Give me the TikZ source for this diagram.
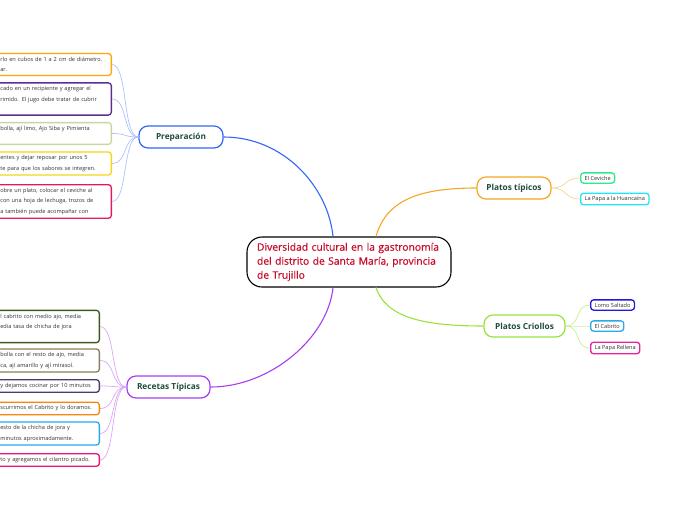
\documentclass[tikz,border=0pt]{standalone}
\usepackage{fontspec}
\setmainfont{Open Sans}
\newfontfamily\rootfont{Open Sans}[FakeBold=0.6]
\usetikzlibrary{positioning}
\definecolor{rootred}{HTML}{C8102E}
\definecolor{brtext}{HTML}{1E4D3A}
\definecolor{cprep}{HTML}{3366F5}
\definecolor{ctip}{HTML}{F5A623}
\definecolor{ccri}{HTML}{9AE23A}
\definecolor{crec}{HTML}{A63DF0}

\begin{document}
\begin{tikzpicture}[
  x=1pt, y=-1pt,
  root/.style={draw=black, line width=1.1pt, rounded corners=15pt, fill=white,
    minimum width=204pt, minimum height=50pt, text width=184pt, align=left,
    inner xsep=10pt, font=\rootfont\fontsize{10.3}{14}\selectfont, text=rootred},
  branch/.style={draw, line width=1.2pt, rounded corners=9pt, fill=white,
    minimum height=22pt, font=\bfseries\fontsize{8.3}{10}\selectfont, text=brtext},
  leaf/.style={draw, line width=1.3pt, rounded corners=3pt, fill=white,
    inner xsep=4pt, inner ysep=3.5pt, align=left, text=black!80,
    font=\fontsize{5.6}{10.5}\selectfont},
  lleaf/.style={leaf, anchor=east, text width=#1},
  rleaf/.style={leaf, anchor=west, inner ysep=3pt, font=\fontsize{5.6}{7}\selectfont},
  link/.style={line width=1.1pt},
  sublink/.style={line width=0.7pt},
]
\useasboundingbox (0,0) rectangle (696,520);
\clip (0,0) rectangle (696,520);

% --- centre and main branches ---
\node[root] (root) at (349,262) {Diversidad cultural en la gastronomía\\del distrito de Santa María, provincia\\de Trujillo};
\node[branch, draw=cprep, minimum width=84pt] (prep) at (181,137) {Preparación};
\node[branch, draw=ctip, minimum width=74pt] (tipicos) at (514,188) {Platos típicos};
\node[branch, draw=ccri, minimum width=81pt] (criollos) at (524.5,326) {Platos Criollos};
\node[branch, draw=crec, minimum width=83pt] (recetas) at (168.5,387) {Recetas Típicas};

\draw[link, cprep] (prep.east) .. controls +(60,0) and +(-5,-50) .. ([xshift=-16pt]root.north);
\draw[link, ctip] ([xshift=27pt]root.north) .. controls +(10,-35) and +(-60,0) .. (tipicos.west);
\draw[link, crec] ([xshift=-16pt]root.south) .. controls +(-5,50) and +(60,0) .. (recetas.east);
\draw[link, ccri] ([xshift=27pt]root.south) .. controls +(10,30) and +(-60,0) .. (criollos.west);

% --- Preparación leaves (cut at the left edge) ---
\node[lleaf=107pt, draw=orange!70!yellow] (p1) at (112,64.5) {rlo en cubos de 1 a 2 cm de diámetro.\\ar.};
\node[lleaf=107pt, draw={rgb,255:red,94;green,45;blue,145}] (p2) at (112,99) {cado en un recipiente y agregar el\\rimido. El jugo debe tratar de cubrir\\\mbox{}};
\node[lleaf=107pt, draw={rgb,255:red,200;green,215;blue,158}] (p3) at (112,133.5) {bolla, ají limo, Ajo Siba y Pimienta\\\mbox{}};
\node[lleaf=107pt, draw={rgb,255:red,248;green,212;blue,22}] (p4) at (112,163.5) {entes y dejar reposar por unos 5\\te para que los sabores se integren.};
\node[lleaf=107pt, draw={rgb,255:red,232;green,23;blue,93}] (p5) at (112,201.5) {obre un plato, colocar el ceviche al\\ con una hoja de lechuga, trozos de\\a también puede acompañar con};

\foreach \n in {p1,p2,p3,p4,p5}
  \draw[sublink, cprep!40] (prep.west) .. controls +(-16,0) and +(16,0) .. (\n.east);

% --- Recetas leaves ---
\node[lleaf=95pt, draw={rgb,255:red,60;green,90;blue,32}] (r1) at (100,326.5) {l cabrito con medio ajo, media\\edia tasa de chicha de jora\\\mbox{}};
\node[lleaf=95pt, draw={rgb,255:red,140;green,126;blue,90}] (r2) at (100,360.5) {bolla con el resto de ajo, media\\ca, ají amarillo y ají mirasol.};
\node[lleaf=95pt, draw={rgb,255:red,75;green,59;blue,107}] (r3) at (100,386) {y dejamos cocinar por 10 minutos};
\node[lleaf=95pt, draw={rgb,255:red,245;green,133;blue,15}] (r4) at (100,408.5) {scurrimos el Cabrito y lo doramos.};
\node[lleaf=95pt, draw={rgb,255:red,37;green,169;blue,232}] (r5) at (100,433.5) {esto de la chicha de jora y\\minutos aproximadamente.};
\node[lleaf=95pt, draw={rgb,255:red,226;green,24;blue,122}] (r6) at (100,460) {to y agregamos el cilantro picado.};

\foreach \n in {r1,r2,r3,r4,r5,r6}
  \draw[sublink, crec!45] (recetas.west) .. controls +(-16,0) and +(16,0) .. (\n.east);

% --- right side leaves ---
\node[rleaf, draw={rgb,255:red,46;green,232;blue,142}] (ceviche) at (580,178) {El Ceviche};
\node[rleaf, draw={rgb,255:red,34;green,229;blue,240}] (huanc) at (580,199) {La Papa a la Huancaína};
\node[rleaf, draw={rgb,255:red,28;green,28;blue,217}] (lomo) at (590,305) {Lomo Saltado};
\node[rleaf, draw={rgb,255:red,42;green,168;blue,238}] (cabrito) at (590,326) {El Cabrito};
\node[rleaf, draw={rgb,255:red,232;green,34;blue,159}] (rellena) at (590,348) {La Papa Rellena};

\foreach \n in {ceviche,huanc}
  \draw[sublink, ctip!50] (tipicos.east) .. controls +(16,0) and +(-16,0) .. (\n.west);
\foreach \n in {lomo,cabrito,rellena}
  \draw[sublink, ccri!55] (criollos.east) .. controls +(16,0) and +(-16,0) .. (\n.west);
\end{tikzpicture}
\end{document}
